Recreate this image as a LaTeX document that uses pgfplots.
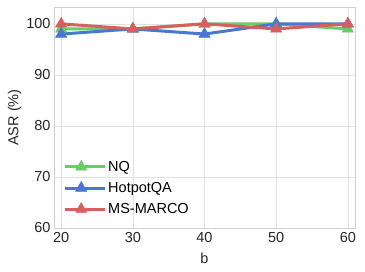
\documentclass[border=0pt]{standalone}
\usepackage{pgfplots}
\pgfplotsset{compat=1.18}
\usepackage{fontspec}
\setmainfont{Liberation Sans}
\definecolor{cgreen}{HTML}{6ACC64}
\definecolor{cblue}{HTML}{4878D0}
\definecolor{cred}{HTML}{D65F5F}
\definecolor{gridc}{HTML}{E2E2E2}
\definecolor{framec}{HTML}{D0D0D0}
\begin{document}
\begin{tikzpicture}
\path[use as bounding box] (-54pt,-44pt) rectangle (311pt,228pt);
\begin{axis}[
  at={(0,0)}, anchor=south west,
  scale only axis, width=301pt, height=221pt,
  xmin=19, xmax=61, ymin=60, ymax=103.3,
  xtick={20,30,40,50,60}, ytick={60,70,80,90,100},
  major tick length=0pt,
  grid=major,
  grid style={gridc, line width=0.6pt},
  axis line style={framec, line width=0.8pt},
  tick label style={font=\fontsize{14.5}{17}\selectfont, text=black!85},
  label style={font=\fontsize{14.5}{17}\selectfont, text=black!85},
  xticklabel style={yshift=-1pt},
  yticklabel style={xshift=0pt},
  /pgf/number format/assume math mode=true,
  xlabel={b}, ylabel={ASR (\%)},
  xlabel style={yshift=-3pt},
  ylabel style={yshift=-2pt},
  legend style={draw=none, fill=none,
    at={(0.02,0.04)}, anchor=south west,
    font=\fontsize{14.5}{17}\selectfont, row sep=5.5pt,
    legend cell align=left},
  legend image code/.code={
    \draw[mark repeat=2, mark phase=2, #1] plot coordinates {(0pt,0pt) (16.5pt,0pt) (33pt,0pt)};
    \path (0pt,0pt) -- (40pt,0pt);
  },
]
\addplot[cgreen, line width=3pt, mark=triangle*, mark size=6.5pt, mark options={line width=0.5pt}]
  coordinates {(20,99) (30,99) (40,100) (50,100) (60,99)};
\addlegendentry{NQ}
\addplot[cblue, line width=3pt, mark=triangle*, mark size=6.5pt, mark options={line width=0.5pt}]
  coordinates {(20,98) (30,99) (40,98) (50,100) (60,100)};
\addlegendentry{HotpotQA}
\addplot[cred, line width=3pt, mark=triangle*, mark size=6.5pt, mark options={line width=0.5pt}]
  coordinates {(20,100) (30,99) (40,100) (50,99) (60,100)};
\addlegendentry{MS-MARCO}
\end{axis}
\end{tikzpicture}
\end{document}
